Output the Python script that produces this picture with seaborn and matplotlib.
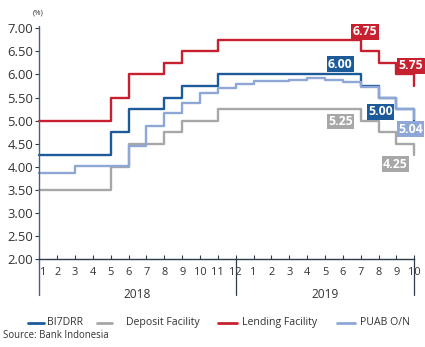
import numpy as np
import pandas as pd
import seaborn as sns
import matplotlib.pyplot as plt
import matplotlib.transforms as mtransforms
from matplotlib.lines import Line2D

# Monthly policy and money-market rates, Jan 2018 - Oct 2019 (%)
months = ["1", "2", "3", "4", "5", "6", "7", "8", "9", "10", "11", "12",
          "1", "2", "3", "4", "5", "6", "7", "8", "9", "10"]
years = ["2018", "2019"]

bi7drr = [4.25, 4.25, 4.25, 4.25, 4.75, 5.25, 5.25, 5.50, 5.75, 5.75, 6.00, 6.00,
          6.00, 6.00, 6.00, 6.00, 6.00, 6.00, 5.75, 5.50, 5.25, 5.00]
deposit = [3.50, 3.50, 3.50, 3.50, 4.00, 4.50, 4.50, 4.75, 5.00, 5.00, 5.25, 5.25,
           5.25, 5.25, 5.25, 5.25, 5.25, 5.25, 5.00, 4.75, 4.50, 4.25]
lending = [5.00, 5.00, 5.00, 5.00, 5.50, 6.00, 6.00, 6.25, 6.50, 6.50, 6.75, 6.75,
           6.75, 6.75, 6.75, 6.75, 6.75, 6.75, 6.50, 6.25, 6.00, 5.75]
puab = [3.87, 3.87, 4.02, 4.02, 4.02, 4.45, 4.89, 5.17, 5.38, 5.59, 5.71, 5.79,
        5.85, 5.86, 5.87, 5.92, 5.87, 5.83, 5.72, 5.48, 5.25, 5.04]

series_names = ["BI7DRR", "Deposit Facility", "Lending Facility", "PUAB O/N"]
colors = {"BI7DRR": "#1d5a9a", "Deposit Facility": "#a7a7a7",
          "Lending Facility": "#c7202f", "PUAB O/N": "#8ea7d6"}

idx = np.arange(len(months))
df = pd.concat([
    pd.DataFrame({"idx": idx, "value": vals, "series": name})
    for name, vals in zip(series_names, [bi7drr, deposit, lending, puab])
], ignore_index=True)

sns.set_theme(style="white")
plt.rcParams["font.family"] = ["Open Sans", "DejaVu Sans"]

W, H = 425, 347
fig = plt.figure(figsize=(W / 100, H / 100), dpi=100)
x0, x1, ytop, ybot = 39.3, 414.3, 28.3, 259.0
ax = fig.add_axes([x0 / W, 1 - ybot / H, (x1 - x0) / W, (ybot - ytop) / H])

draw_order = ["Deposit Facility", "BI7DRR", "Lending Facility", "PUAB O/N"]
sns.lineplot(data=df, x="idx", y="value", hue="series", hue_order=draw_order,
             palette=colors, drawstyle="steps-post", estimator=None,
             errorbar=None, linewidth=1.7, legend=False, ax=ax, clip_on=False)

ax.set_xlim(0, 21)
ax.set_ylim(2, 7)
ax.set_xlabel("")
ax.set_ylabel("")

axis_col = "#2d3b4b"
text_col = "#333333"

ax.set_yticks(np.arange(2, 7.01, 0.5))
ax.set_yticklabels([f"{v:.2f}" for v in np.arange(2, 7.01, 0.5)])
ax.tick_params(axis="y", direction="out", length=3, width=0.8, color=axis_col,
               pad=1.5, labelsize=9.4, labelcolor=text_col, left=True)
ax.set_xticks(idx)
ax.set_xticklabels(months)
ax.tick_params(axis="x", direction="in", length=3, width=0.8, color=axis_col,
               pad=6, labelsize=7.9, labelcolor=text_col, bottom=True)

# first month label sits just right of the vertical axis line
first = ax.get_xticklabels()[0]
first.set_transform(first.get_transform() +
                    mtransforms.ScaledTranslation(3.5 / 100, 0, fig.dpi_scale_trans))

for s in ["top", "right", "left"]:
    ax.spines[s].set_visible(False)
ax.spines["bottom"].set_color(axis_col)
ax.spines["bottom"].set_linewidth(1.0)

# left axis line and year separators extending below the month labels
trans = ax.get_xaxis_transform()
ax.add_line(Line2D([0, 0], [-0.156, 1.01], transform=trans, color="#50607a",
                   lw=1.0, clip_on=False))
for xs in [11, 21]:
    ax.add_line(Line2D([xs, xs], [-0.156, 0.0], transform=trans, color=axis_col,
                       lw=0.9, clip_on=False))
ax.text(5.5, -0.152, years[0], transform=trans, ha="center", va="center",
        fontsize=8.6, color=text_col)
ax.text(16.0, -0.152, years[1], transform=trans, ha="center", va="center",
        fontsize=8.6, color=text_col)

fig.text(37.8 / W, 1 - 13.3 / H, "(%)", ha="center", va="center",
         fontsize=5.5, color=text_col)

# value callouts
data = {"BI7DRR": bi7drr, "Deposit Facility": deposit,
        "Lending Facility": lending, "PUAB O/N": puab}
callouts = [
    ("Lending Facility", 17, 18.24, 6.92),
    ("Lending Facility", 21, 20.82, 6.19),
    ("BI7DRR", 17, 16.86, 6.22),
    ("BI7DRR", 21, 19.10, 5.19),
    ("PUAB O/N", 21, 20.79, 4.81),
    ("Deposit Facility", 17, 16.87, 4.98),
    ("Deposit Facility", 21, 19.95, 4.05),
]
for name, i, tx, ty in callouts:
    ax.text(tx, ty, f"{data[name][i]:.2f}", ha="center", va="center",
            fontsize=8.8, fontweight="bold", color="white", clip_on=False,
            zorder=5,
            bbox=dict(boxstyle="square,pad=0.12", fc=colors[name], ec="none"))

# legend row
leg_y = 1 - 322.5 / H
leg_items = [("BI7DRR", 28, 44, 47), ("Deposit Facility", 97, 112, 126),
             ("Lending Facility", 218, 237, 242), ("PUAB O/N", 337, 355, 360)]
for name, la, lb, tx in leg_items:
    fig.add_artist(Line2D([la / W, lb / W], [leg_y, leg_y], color=colors[name],
                          lw=2.0, transform=fig.transFigure))
    fig.text(tx / W, leg_y, name, ha="left", va="center", fontsize=7.6,
             color=text_col)

fig.text(3.3 / W, 1 - 335 / H, "Source: Bank Indonesia", ha="left", va="center",
         fontsize=6.9, color=text_col)

fig.savefig("out.png", dpi=100, facecolor="white")
